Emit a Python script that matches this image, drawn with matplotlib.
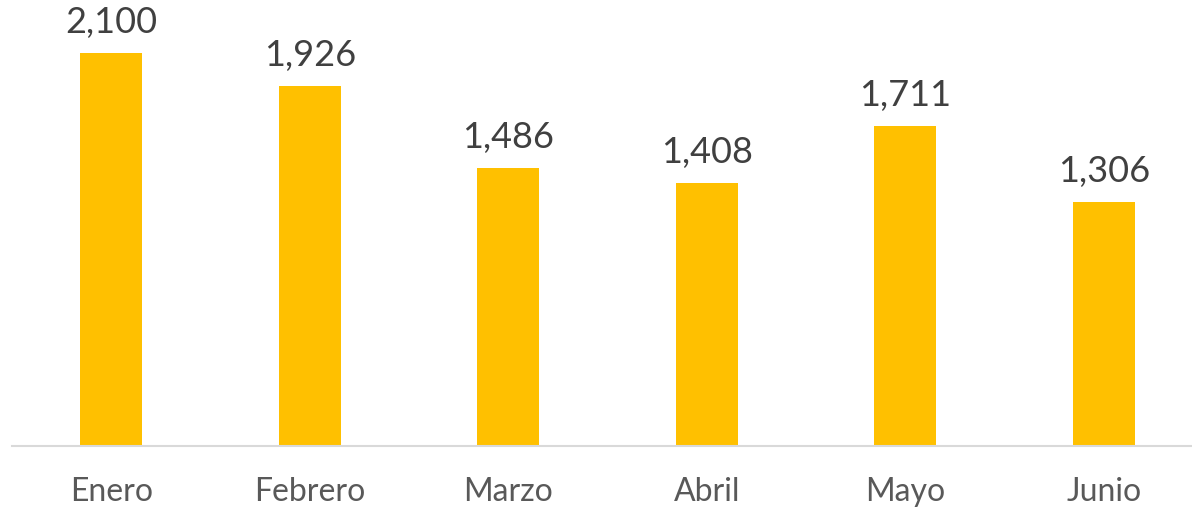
import matplotlib
matplotlib.use("Agg")
import matplotlib.pyplot as plt

categories = ["Enero", "Febrero", "Marzo", "Abril", "Mayo", "Junio"]
values = [2100, 1926, 1486, 1408, 1711, 1306]

plt.rcParams['font.family'] = ['Lato', 'DejaVu Sans']

W, H = 1192, 512
fig = plt.figure(figsize=(W / 100, H / 100), dpi=100)
left = 12 / W
right_px = 1203
bottom = 1 - 446 / H
ax = fig.add_axes([left, bottom, (right_px - 12) / W, 446 / H])

x = list(range(len(categories)))
ax.bar(x, values, width=0.312, color="#FFC000", zorder=2)
ax.set_xlim(-0.5, len(categories) - 0.5)
ax.set_ylim(0, 2100 * 446 / 393)

for s in ["top", "right", "left"]:
    ax.spines[s].set_visible(False)
ax.spines["bottom"].set_color("#d9d9d9")
ax.spines["bottom"].set_linewidth(1.5)
ax.set_yticks([])
ax.set_xticks(x)
ax.set_xticklabels(categories, fontsize=23, color="#595959")
ax.tick_params(axis="x", length=0, pad=22)

for xi, v in zip(x, values):
    ax.annotate(f"{v:,}", (xi, v), xytext=(0, 10), textcoords="offset points",
                ha="center", va="bottom", fontsize=26, color="#404040")

fig.savefig("out.png", dpi=100)
